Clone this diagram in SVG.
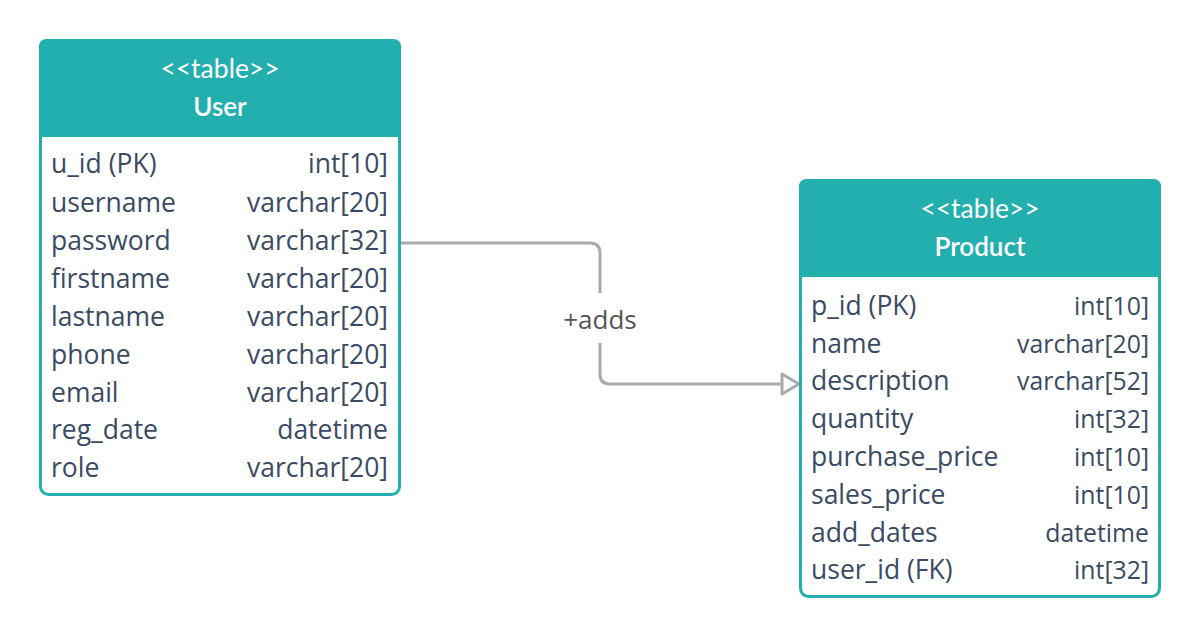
<svg xmlns="http://www.w3.org/2000/svg" width="1200" height="638" viewBox="0 0 1200 638">
<defs>
<style>
.box{fill:#ffffff;stroke:#24afaf;stroke-width:3}
.hdr{fill:#24afaf}
.st{font-family:Lato,"Open Sans",sans-serif;font-size:26.5px;fill:#ffffff;text-anchor:middle}
.tt{font-family:Lato,"Open Sans",sans-serif;font-size:26px;font-weight:600;fill:#ffffff;text-anchor:middle}
.f{font-family:"Open Sans","Noto Sans",sans-serif;font-size:26.5px;fill:#3b4a63}
.r{text-anchor:end}
.pr{font-size:24.8px}
.conn{fill:none;stroke:#aaaaaa;stroke-width:3}
.lbl{font-family:"Open Sans","Noto Sans",sans-serif;font-size:26px;fill:#555555;text-anchor:middle}
</style>
<marker id="tri" markerWidth="24" markerHeight="28" refX="19" refY="12" orient="auto" markerUnits="userSpaceOnUse">
<path d="M2,2 L19,12 L2,22 Z" fill="#ffffff" stroke="#aaaaaa" stroke-width="3" stroke-linejoin="round"/>
</marker>
</defs>
<g id="connectors">
<path class="conn" d="M401,243 H590 Q600,243 600,253 V293"/>
<path class="conn" d="M600,343 V374 Q600,384 610,384 H799" marker-end="url(#tri)"/>
<text class="lbl" x="600" y="329">+adds</text>
</g>
<g id="user">
<rect class="box" x="40.5" y="40.5" width="359" height="454" rx="8"/>
<path class="hdr" d="M39,47 Q39,39 47,39 H393 Q401,39 401,47 V137 H39 Z"/>
<text class="st" x="220" y="78">&lt;&lt;table&gt;&gt;</text>
<text class="tt" x="220" y="116">User</text>
<text class="f" x="51" y="173">u_id (PK)</text><text class="f r" x="388" y="173">int[10]</text>
<text class="f" x="51" y="212">username</text><text class="f r" x="388" y="212">varchar[20]</text>
<text class="f" x="51" y="250">password</text><text class="f r" x="388" y="250">varchar[32]</text>
<text class="f" x="51" y="288">firstname</text><text class="f r" x="388" y="288">varchar[20]</text>
<text class="f" x="51" y="326">lastname</text><text class="f r" x="388" y="326">varchar[20]</text>
<text class="f" x="51" y="364">phone</text><text class="f r" x="388" y="364">varchar[20]</text>
<text class="f" x="51" y="402">email</text><text class="f r" x="388" y="402">varchar[20]</text>
<text class="f" x="51" y="439">reg_date</text><text class="f r" x="388" y="439">datetime</text>
<text class="f" x="51" y="477">role</text><text class="f r" x="388" y="477">varchar[20]</text>
</g>
<g id="product">
<rect class="box" x="800.5" y="180.5" width="359" height="416" rx="8"/>
<path class="hdr" d="M799,187 Q799,179 807,179 H1153 Q1161,179 1161,187 V277 H799 Z"/>
<text class="st" x="980" y="218">&lt;&lt;table&gt;&gt;</text>
<text class="tt" x="980" y="256">Product</text>
<text class="f" x="811" y="315">p_id (PK)</text><text class="f r pr" x="1149" y="315">int[10]</text>
<text class="f" x="811" y="353">name</text><text class="f r pr" x="1149" y="353">varchar[20]</text>
<text class="f" x="811" y="390">description</text><text class="f r pr" x="1149" y="390">varchar[52]</text>
<text class="f" x="811" y="428">quantity</text><text class="f r pr" x="1149" y="428">int[32]</text>
<text class="f" x="811" y="466">purchase_price</text><text class="f r pr" x="1149" y="466">int[10]</text>
<text class="f" x="811" y="504">sales_price</text><text class="f r pr" x="1149" y="504">int[10]</text>
<text class="f" x="811" y="542">add_dates</text><text class="f r pr" x="1149" y="542">datetime</text>
<text class="f" x="811" y="579">user_id (FK)</text><text class="f r pr" x="1149" y="579">int[32]</text>
</g>
</svg>
